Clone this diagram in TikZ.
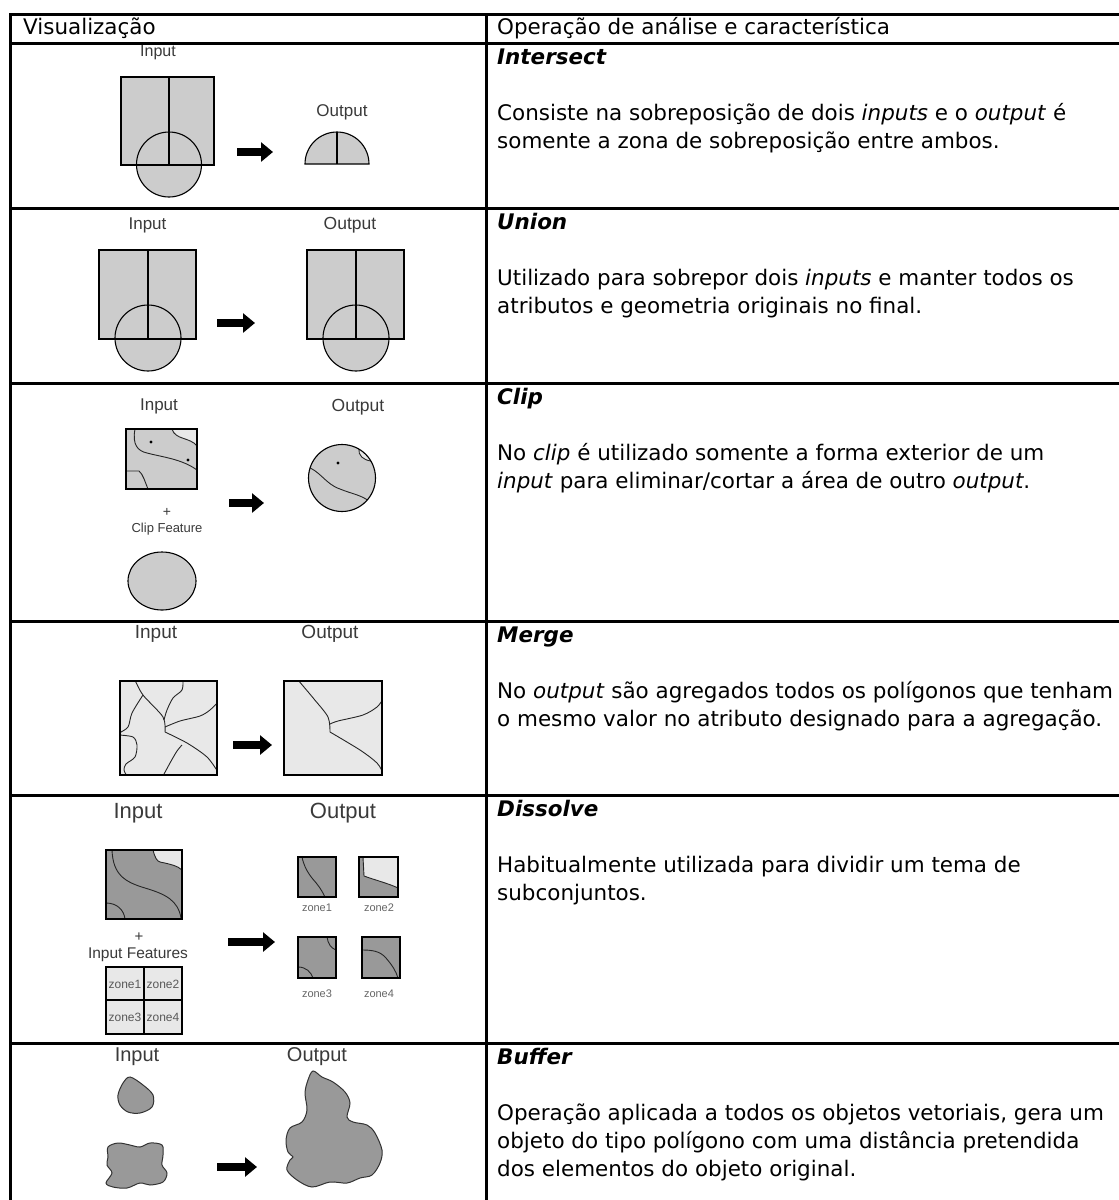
\documentclass[tikz,border=0pt]{standalone}
\usepackage{fontspec}
\setmainfont{DejaVu Sans}
\newfontfamily\lbfont{Liberation Sans}
\usetikzlibrary{arrows.meta}
\definecolor{gA}{HTML}{CCCCCC}
\definecolor{gL}{HTML}{E8E8E8}
\definecolor{gD}{HTML}{999999}
\definecolor{lbc}{HTML}{3A3A3A}
\tikzset{
  grid/.style={line width=3pt, line cap=rect},
  shp/.style={draw=black, line width=1.1pt},
  mline/.style={draw=black!85, line width=0.9pt},
  blob/.style={draw=black!80, line width=1pt, fill=gD},
  bigarrow/.style={line width=8pt, line cap=butt, -{Triangle[length=12pt,width=19pt]}},
  lbl/.style={inner sep=0pt, text=lbc, font=\lbfont\fontsize{#1}{#1}\selectfont},
  txt/.style={anchor=base west, inner sep=0pt, font=\fontsize{21.45}{28}\selectfont},
  dot/.style={fill=black},
}
\begin{document}
\begin{tikzpicture}[x=1pt,y=-1pt]
\useasboundingbox (0,0) rectangle (1119,1200);
\fill[white] (0,0) rectangle (1119,1200);
% ---------------- table grid
\draw[grid] (10,14) -- (1125,14);
\draw[grid] (10,43) -- (1125,43);
\foreach \yy in {208,383,621,795,1043} {\draw[grid] (10,\yy) -- (1125,\yy);}
\draw[grid] (10,14) -- (10,1210);
\draw[grid] (486,14) -- (486,1210);
% ---------------- header
\node[txt] (h1) at (23,34) {Visualização};
\node[txt] (h2) at (497,34) {Operação de análise e característica};
% ---------------- right column texts
\node[txt] (t1) at (497,64) {\textbf{\textit{Intersect}}};
\node[txt] (t1a) at (497,120) {Consiste na sobreposição de dois \textit{inputs} e o \textit{output} é};
\node[txt] (t1b) at (497,148) {somente a zona de sobreposição entre ambos.};
\node[txt] (t2) at (497,229) {\textbf{\textit{Union}}};
\node[txt] (t2a) at (497,285) {Utilizado para sobrepor dois \textit{inputs} e manter todos os};
\node[txt] (t2b) at (497,313) {atributos e geometria originais no final.};
\node[txt] (t3) at (497,404) {\textbf{\textit{Clip}}};
\node[txt] (t3a) at (497,460) {No \textit{clip} é utilizado somente a forma exterior de um};
\node[txt] (t3b) at (497,488) {\textit{input} para eliminar/cortar a área de outro \textit{output}.};
\node[txt] (t4) at (497,642) {\textbf{\textit{Merge}}};
\node[txt] (t4a) at (497,698) {No \textit{output} são agregados todos os polígonos que tenham};
\node[txt] (t4b) at (497,726) {o mesmo valor no atributo designado para a agregação.};
\node[txt] (t5) at (497,816) {\textbf{\textit{Dissolve}}};
\node[txt] (t5a) at (497,872) {Habitualmente utilizada para dividir um tema de};
\node[txt] (t5b) at (497,900) {subconjuntos.};
\node[txt] (t6) at (497,1064) {\textbf{\textit{Buffer}}};
\node[txt] (t6a) at (497,1120) {Operação aplicada a todos os objetos vetoriais, gera um};
\node[txt] (t6b) at (497,1148) {objeto do tipo polígono com uma distância pretendida};
\node[txt] (t6c) at (497,1176) {dos elementos do objeto original.};

% ================= Row 1: Intersect
\node[lbl=16] (i1) at (158,53) {Input};
\node[lbl=17] (o1) at (342,112) {Output};
\fill[gA] (121,77) rectangle (214,165);
\fill[gA] (169,164.5) circle[radius=32.5];
\draw[shp] (121,77) rectangle (214,165);
\draw[shp] (169,164.5) circle[radius=32.5];
\draw[shp] (169,77) -- (169,165);
\draw[shp, fill=gA] (305,164) arc[start angle=180, end angle=360, radius=32] -- cycle;
\draw[shp] (337,132) -- (337,164);
\coordinate (a1s) at (237,152); \coordinate (a1e) at (273,152);
\draw[bigarrow] (a1s) -- (a1e);

% ================= Row 2: Union
\node[lbl=17] (i2) at (147.5,225) {Input};
\node[lbl=17.5] (o2) at (350,225) {Output};
\fill[gA] (99,250) rectangle (196,339);
\fill[gA] (148,338) circle[radius=33];
\draw[shp] (99,250) rectangle (196,339);
\draw[shp] (148,338) circle[radius=33];
\draw[shp] (148,250) -- (148,339);
\fill[gA] (307,250) rectangle (404,339);
\fill[gA] (356,338) circle[radius=33];
\draw[shp] (307,250) rectangle (404,339);
\draw[shp] (356,338) circle[radius=33];
\draw[shp] (356,250) -- (356,339);
\coordinate (a2s) at (217,323); \coordinate (a2e) at (255,323);
\draw[bigarrow] (a2s) -- (a2e);

% ================= Row 3: Clip
\node[lbl=17] (i3) at (159,406) {Input};
\node[lbl=17.5] (o3) at (358,407) {Output};
\fill[gA] (126,429) rectangle (197,489);
\fill[gL] (172,429) .. controls (175,440) and (190,437) .. (197,446) -- (197,429) -- cycle;
\draw[mline] (172,429) .. controls (175,440) and (190,437) .. (197,446);
\draw[mline] (135,429) .. controls (132,445) and (138,451) .. (147,453) .. controls (162,457) and (182,459) .. (197,470);
\draw[mline] (126,471) -- (139,471) .. controls (143,474) and (145,482) .. (148,489);
\fill[dot] (151,442) circle[radius=1.6];
\fill[dot] (188,460) circle[radius=1.6];
\draw[shp] (126,429) rectangle (197,489);
\node[lbl=14] (p3) at (167,512) {+};
\node[lbl=13] (cf) at (167,529) {Clip Feature};
\draw[shp, fill=gA] (162,581) ellipse[x radius=34, y radius=29];
\coordinate (a3s) at (229,503); \coordinate (a3e) at (264,503);
\draw[bigarrow] (a3s) -- (a3e);
\fill[gA] (342,478) circle[radius=33.5];
\begin{scope}
  \clip (342,478) circle[radius=33.5];
  \fill[gL] (359,449) .. controls (358,455) and (363,460) .. (371,461) -- (380,440) -- (360,440) -- cycle;
  \draw[mline] (359,449) .. controls (358,455) and (363,460) .. (371,461);
  \draw[mline] (305,466) .. controls (320,470) and (325,484) .. (340,489) .. controls (352,494) and (362,495) .. (370,502);
\end{scope}
\fill[dot] (338,463) circle[radius=1.6];
\draw[shp] (342,478) circle[radius=33.5];

% ================= Row 4: Merge
\node[lbl=19] (i4) at (156,634) {Input};
\node[lbl=19] (o4) at (330,634) {Output};
\fill[gL] (120,681) rectangle (217,775);
\begin{scope}
  \clip (120,681) rectangle (217,775);
  \draw[mline] plot[smooth] coordinates {(135,680) (143,695) (163,717) (165,732)};
  \draw[mline] plot[smooth] coordinates {(165,727) (180,721) (200,716) (210,710) (218,702)};
  \draw[mline] plot[smooth] coordinates {(165,732) (187,743) (207,757) (218,772)};
  \draw[mline] plot[smooth] coordinates {(183,680) (182,690) (173,698) (167,710) (164,720)};
  \draw[mline] plot[smooth] coordinates {(143,695) (132,713) (128,727) (119,733)};
  \draw[mline] plot[smooth] coordinates {(119,735) (133,737) (137,745) (135,757) (126,764) (124,770) (127,776)};
  \draw[mline] plot[smooth] coordinates {(182,745) (177,751) (170,763) (163,776)};
\end{scope}
\draw[shp] (120,681) rectangle (217,775);
\fill[gL] (284,681) rectangle (382,775);
\begin{scope}
  \clip (284,681) rectangle (382,775);
  \draw[mline] plot[smooth] coordinates {(298,680) (314,699) (328,717) (330,732)};
  \draw[mline] plot[smooth] coordinates {(330,724) (338,721) (363,715) (377,707) (383,699)};
  \draw[mline] plot[smooth] coordinates {(330,732) (360,750) (377,763) (383,773)};
\end{scope}
\draw[shp] (284,681) rectangle (382,775);
\coordinate (a4s) at (233,745); \coordinate (a4e) at (272,745);
\draw[bigarrow] (a4s) -- (a4e);

% ================= Row 5: Dissolve
\node[lbl=22] (i5) at (138,813) {Input};
\node[lbl=22] (o5) at (343,813) {Output};
\fill[gD] (106,850) rectangle (182,919);
\fill[gL] (153,850) .. controls (155,858) and (157,861) .. (160,862) .. controls (170,864) and (178,866) .. (182,870) -- (182,850) -- cycle;
\draw[mline] (153,850) .. controls (155,858) and (157,861) .. (160,862) .. controls (170,864) and (178,866) .. (182,870);
\draw[mline] (112,850) .. controls (113,875) and (125,882) .. (145,888) .. controls (165,894) and (178,900) .. (181,918);
\draw[mline] (106,903) .. controls (117,903) and (124,910) .. (125,919);
\draw[shp] (106,850) rectangle (182,919);
\node[lbl=15] (p5) at (139,937) {+};
\node[lbl=15.5] (if) at (138,955) {Input Features};
\draw[shp, fill=gL] (106,967) rectangle (182,1034);
\draw[shp] (144,967) -- (144,1034);
\draw[shp] (106,1000) -- (182,1000);
\node[lbl=12, text=black!65] (z1) at (125,984) {zone1};
\node[lbl=12, text=black!65] (z2) at (163,984) {zone2};
\node[lbl=12, text=black!65] (z3) at (125,1017) {zone3};
\node[lbl=12, text=black!65] (z4) at (163,1017) {zone4};
\coordinate (a5s) at (228,942); \coordinate (a5e) at (275,942);
\draw[bigarrow] (a5s) -- (a5e);
% output zones
\fill[gD] (298,857) rectangle (336,897);
\draw[mline] (302,857) .. controls (305,872) and (314,880) .. (317,884) .. controls (321,889) and (323,893) .. (325,897);
\draw[shp] (298,857) rectangle (336,897);
\fill[gD] (359,857) rectangle (398,897);
\fill[gL] (363,857) -- (364,876) .. controls (375,880) and (390,884) .. (398,888) -- (398,857) -- cycle;
\draw[mline] (363,857) -- (364,876) .. controls (375,880) and (390,884) .. (398,888);
\draw[shp] (359,857) rectangle (398,897);
\node[lbl=11, text=black!60] (oz1) at (317,908) {zone1};
\node[lbl=11, text=black!60] (oz2) at (379,908) {zone2};
\fill[gD] (298,937) rectangle (336,978);
\draw[mline] (327,937) .. controls (328,944) and (331,948) .. (336,950);
\draw[mline] (298,967) .. controls (306,967) and (311,972) .. (313,978);
\draw[shp] (298,937) rectangle (336,978);
\fill[gD] (362,937) rectangle (400,978);
\draw[mline] (362,950) .. controls (372,950) and (380,951) .. (386,958) .. controls (392,965) and (396,971) .. (398,978);
\draw[shp] (362,937) rectangle (400,978);
\node[lbl=11, text=black!60] (oz3) at (317,994) {zone3};
\node[lbl=11, text=black!60] (oz4) at (379,994) {zone4};

% ================= Row 6: Buffer
\node[lbl=20] (i6) at (137,1057) {Input};
\node[lbl=20] (o6) at (317,1057) {Output};
\draw[blob] plot[smooth cycle, tension=0.55] coordinates {(130,1077) (143,1085) (153,1095) (152,1107) (140,1113) (128,1112) (120,1105) (118,1095) (123,1083)};
\draw[blob] plot[smooth cycle, tension=0.55] coordinates {(108,1147) (118,1143) (130,1145) (140,1147) (150,1143) (162,1145) (163,1155) (162,1165) (167,1173) (163,1182) (150,1185) (140,1183) (127,1188) (113,1187) (106,1183) (112,1173) (107,1165) (108,1157)};
\draw[blob] plot[smooth cycle, tension=0.55] coordinates {(313,1071) (322,1077) (333,1082) (345,1092) (350,1103) (347,1117) (353,1122) (367,1125) (375,1133) (382,1150) (380,1163) (372,1175) (360,1178) (347,1183) (330,1182) (312,1187) (297,1180) (287,1170) (290,1160) (293,1157) (288,1152) (286,1140) (290,1128) (302,1122) (307,1110) (305,1093) (308,1080)};
\coordinate (a6s) at (217,1167); \coordinate (a6e) at (257,1167);
\draw[bigarrow] (a6s) -- (a6e);
\end{tikzpicture}
\end{document}
